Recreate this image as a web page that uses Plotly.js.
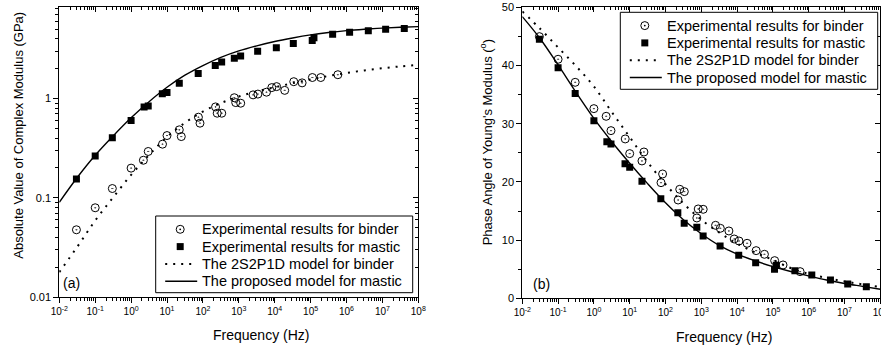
<!DOCTYPE html>
<html>
<head>
<meta charset="utf-8">
<script src="https://cdn.plot.ly/plotly-3.0.1.min.js"></script>
<style>html,body{margin:0;padding:0;background:#fff;}#chart{width:881px;height:347px;}</style>
</head>
<body>
<div id="chart"></div>
<script>
// ---- data ----
const freqMastic = [0.03,0.1,0.3,1,2.3,3,7.4,10,22,74,221,333,750,1125,3350,11100,33000,111000,124000,411000,1220000,4050000,12300000,40700000];
const modulusMastic = [0.155,0.263,0.402,0.601,0.824,0.844,1.12,1.15,1.43,1.79,2.15,2.34,2.55,2.69,3.0,3.26,3.58,3.84,4.11,4.44,4.65,4.84,4.99,5.1];
const phaseMastic = [44.5,39.6,35.2,30.5,26.9,26.5,23.1,22.5,20.1,17.1,14.7,12.9,12.2,10.7,9.0,7.4,6.1,5.0,5.7,4.75,4.0,3.15,2.46,2.0];

const freqBinder = [0.03,0.1,0.3,1,2.2,3,7.5,10,22,25,75,83,225,250,335,750,820,1130,2500,3400,5900,8300,11300,19000,34000,58000,112000,192000,575000];
const modulusBinder = [0.0476,0.0793,0.124,0.199,0.239,0.293,0.347,0.424,0.484,0.414,0.649,0.565,0.824,0.712,0.712,1.02,0.911,0.898,1.09,1.11,1.16,1.29,1.32,1.21,1.48,1.44,1.63,1.63,1.74];
const phaseBinder = [44.96,41.07,37.11,32.59,31.27,28.81,27.38,24.86,23.6,25.14,19.87,21.36,16.89,18.73,18.33,13.8,15.35,15.29,12.54,12.03,11.57,10.19,9.85,9.45,8.19,7.56,6.47,5.73,4.58];

const modelFreq = [0.01,0.0316,0.1,0.316,1,3.16,10,31.6,100,316,1000,3160,1e4,3.16e4,1e5,3.16e5,1e6,3.16e6,1e7,3.16e7,1e8];
const modelModulusMastic = [0.09,0.16,0.268,0.42,0.64,0.93,1.3,1.72,2.15,2.6,3.02,3.4,3.76,4.08,4.38,4.63,4.84,5.0,5.13,5.23,5.31];
const modelModulusBinder = [0.0178,0.032,0.059,0.101,0.17,0.27,0.41,0.57,0.74,0.9,1.05,1.18,1.3,1.43,1.56,1.69,1.81,1.92,2.02,2.11,2.19];
const modelPhaseMastic = [48.4,44.6,40.1,35.4,30.9,26.9,23.2,19.7,16.4,13.5,11.1,9.1,7.6,6.45,5.45,4.6,3.85,3.15,2.55,2.05,1.55];
const modelPhaseBinder = [49.3,46.3,43.1,39.9,36.4,32.0,27.7,23.4,19.6,16.3,13.5,11.3,9.4,7.9,6.6,5.2,4.2,3.5,2.9,2.4,1.95];

const xTickVals = [0.01,0.1,1,10,100,1000,1e4,1e5,1e6,1e7,1e8];
const xTickText = ['10<sup>-2</sup>','10<sup>-1</sup>','10<sup>0</sup>','10<sup>1</sup>','10<sup>2</sup>','10<sup>3</sup>','10<sup>4</sup>','10<sup>5</sup>','10<sup>6</sup>','10<sup>7</sup>','10<sup>8</sup>'];
const yTickValsA = [0.01,0.1,1];
const yTickTextA = ['0.01','0.1','1'];

const names = ['Experimental results for binder','Experimental results for mastic','The 2S2P1D model for binder','The proposed model for mastic'];

// minor tick positions for log axes (axis configuration)
function logMinor(a,b){const v=[];for(let k=a;k<=b;k++){for(let m=2;m<=9;m++){v.push(m*Math.pow(10,k));}}return v;}
const minorX = logMinor(-2,7);
const minorYA = logMinor(-2,0).filter(v=>v<8.4);

const FONT = 'Liberation Sans, Arial, Helvetica, sans-serif';
const dotDash = '2px,6px';

function traces(xa, ya, yB, yM, mB, mM){
  return [
    {x: modelFreq, y: mB, xaxis: xa, yaxis: ya, name: names[2], showlegend: false, mode: 'lines', line: {color: '#000', width: 2, dash: dotDash, shape: 'spline', smoothing: 1}},
    {x: modelFreq, y: mM, xaxis: xa, yaxis: ya, name: names[3], showlegend: false, mode: 'lines', line: {color: '#000', width: 1.4, shape: 'spline', smoothing: 1}},
    {x: freqBinder, y: yB, xaxis: xa, yaxis: ya, name: names[0], showlegend: false, mode: 'markers', marker: {symbol: 'circle-open-dot', size: 8, color: '#000', line: {width: 1, color: '#000'}}},
    {x: freqMastic, y: yM, xaxis: xa, yaxis: ya, name: names[1], showlegend: false, mode: 'markers', marker: {symbol: 'square', size: 7, color: '#000'}}
  ];
}

const data = [].concat(
  traces('x','y', modulusBinder, modulusMastic, modelModulusBinder, modelModulusMastic),
  traces('x2','y2', phaseBinder, phaseMastic, modelPhaseBinder, modelPhaseMastic)
);
// helper traces so mirror axes are drawn
data.push({x:[1],y:[1],xaxis:'x3',yaxis:'y',mode:'markers',marker:{opacity:0},showlegend:false,hoverinfo:'skip'});
data.push({x:[1],y:[1],xaxis:'x',yaxis:'y3',mode:'markers',marker:{opacity:0},showlegend:false,hoverinfo:'skip'});
data.push({x:[1],y:[1],xaxis:'x4',yaxis:'y2',mode:'markers',marker:{opacity:0},showlegend:false,hoverinfo:'skip'});
data.push({x:[1],y:[1],xaxis:'x2',yaxis:'y4',mode:'markers',marker:{opacity:0},showlegend:false,hoverinfo:'skip'});

const W = 881, H = 347;
const px = v => v / W;
const py = v => (H - v) / H;
const dxA = [px(59.3), px(418.3)];
const dxB = [px(522.3), px(880.3)];
const dyA = [py(297), py(7.3)];
const dyB = [py(298.3), py(7.3)];

function xAxis(dom, anchor){
  return {
    domain: dom, anchor: anchor, type: 'log', range: [-2, 8], autorange: false,
    tickmode: 'array', tickvals: xTickVals, ticktext: xTickText,
    ticks: 'outside', ticklen: 5, tickwidth: 1, tickcolor: '#000',
    ticklabeloverflow: 'allow',
    showline: true, linecolor: '#000', linewidth: 1, showgrid: false, zeroline: false,
    tickfont: {family: FONT, size: 10, color: '#000'},
    minor: {tickmode: 'array', tickvals: minorX, ticks: 'outside', ticklen: 3, tickcolor: '#000', tickwidth: 1, showgrid: false}
  };
}
function mirrorX(over, anchor){
  return {
    overlaying: over, anchor: anchor, side: 'top', type: 'log', range: [-2, 8], autorange: false,
    tickmode: 'array', tickvals: xTickVals, ticks: 'inside', ticklen: 5, tickwidth: 1, tickcolor: '#000',
    showticklabels: false, showline: true, linecolor: '#000', linewidth: 1, showgrid: false, zeroline: false,
    minor: {tickmode: 'array', tickvals: minorX, ticks: 'inside', ticklen: 3, tickcolor: '#000', tickwidth: 1, showgrid: false}
  };
}

// ---- legend drawn as box + samples + text ----
const shapes = [];
const annotations = [];
function addLegend(bx, by, bw, bh){
  shapes.push({type: 'rect', xref: 'paper', yref: 'paper', x0: px(bx), x1: px(bx+bw), y0: py(by+bh), y1: py(by), line: {color: '#000', width: 1}, fillcolor: '#fff', layer: 'above'});
  const rows = [13.3, 30.6, 47.9, 65.2];
  const sx = bx + 24.5;
  let cy = by + rows[0];
  shapes.push({type: 'circle', xref: 'paper', yref: 'paper', x0: px(sx-4), x1: px(sx+4), y0: py(cy+4), y1: py(cy-4), line: {color: '#000', width: 1}, fillcolor: '#fff', layer: 'above'});
  shapes.push({type: 'circle', xref: 'paper', yref: 'paper', x0: px(sx-0.9), x1: px(sx+0.9), y0: py(cy+0.9), y1: py(cy-0.9), line: {width: 0}, fillcolor: '#000', layer: 'above'});
  cy = by + rows[1];
  shapes.push({type: 'rect', xref: 'paper', yref: 'paper', x0: px(sx-3.5), x1: px(sx+3.5), y0: py(cy+3.5), y1: py(cy-3.5), line: {width: 0}, fillcolor: '#000', layer: 'above'});
  cy = by + rows[2];
  shapes.push({type: 'line', xref: 'paper', yref: 'paper', x0: px(bx+9.5), x1: px(bx+41.5), y0: py(cy), y1: py(cy), line: {color: '#000', width: 2, dash: dotDash}, layer: 'above'});
  cy = by + rows[3];
  shapes.push({type: 'line', xref: 'paper', yref: 'paper', x0: px(bx+9.5), x1: px(bx+41.5), y0: py(cy), y1: py(cy), line: {color: '#000', width: 1.4}, layer: 'above'});
  names.forEach((n, i) => {
    annotations.push({text: n, xref: 'paper', yref: 'paper', x: px(bx+44.5), y: py(by+rows[i]), xanchor: 'left', yanchor: 'middle', showarrow: false, font: {family: FONT, size: 14.5, color: '#000'}});
  });
}
addLegend(155.7, 216, 257, 76.7);
addLegend(620.3, 12.3, 257.4, 77);

annotations.push(
  {text: 'Absolute Value of Complex Modulus (GPa)', xref: 'paper', yref: 'paper', x: px(17.7), y: py(135), textangle: -90, showarrow: false, xanchor: 'center', yanchor: 'middle', font: {family: FONT, size: 13, color: '#000'}},
  {text: 'Phase Angle of Young\'s Modulus (<sup>o</sup>)', xref: 'paper', yref: 'paper', x: px(485.8), y: py(142.5), textangle: -90, showarrow: false, xanchor: 'center', yanchor: 'middle', font: {family: FONT, size: 13, color: '#000'}},
  {text: 'Frequency (Hz)', xref: 'paper', yref: 'paper', x: px(260.7), y: py(335), showarrow: false, xanchor: 'center', yanchor: 'middle', font: {family: FONT, size: 14, color: '#000'}},
  {text: 'Frequency (Hz)', xref: 'paper', yref: 'paper', x: px(723.7), y: py(336.7), showarrow: false, xanchor: 'center', yanchor: 'middle', font: {family: FONT, size: 14, color: '#000'}},
  {text: '(a)', xref: 'paper', yref: 'paper', x: px(61), y: py(283), showarrow: false, xanchor: 'left', yanchor: 'middle', font: {family: FONT, size: 14, color: '#000'}},
  {text: '(b)', xref: 'paper', yref: 'paper', x: px(531), y: py(284.3), showarrow: false, xanchor: 'left', yanchor: 'middle', font: {family: FONT, size: 14, color: '#000'}}
);

const layout = {
  width: W, height: H,
  margin: {l: 0, r: 0, t: 0, b: 0},
  paper_bgcolor: '#fff', plot_bgcolor: '#fff',
  font: {family: FONT, color: '#000'},
  showlegend: false,
  xaxis: xAxis(dxA, 'y'),
  xaxis2: xAxis(dxB, 'y2'),
  xaxis3: mirrorX('x', 'y'),
  xaxis4: mirrorX('x2', 'y2'),
  yaxis: {
    domain: dyA, anchor: 'x', type: 'log', range: [-2, 0.92], autorange: false,
    tickmode: 'array', tickvals: yTickValsA, ticktext: yTickTextA,
    ticks: 'outside', ticklen: 5, tickwidth: 1, tickcolor: '#000',
    showline: true, linecolor: '#000', linewidth: 1, showgrid: false, zeroline: false,
    tickfont: {family: FONT, size: 11, color: '#000'},
    minor: {tickmode: 'array', tickvals: minorYA, ticks: 'outside', ticklen: 3, tickcolor: '#000', tickwidth: 1, showgrid: false}
  },
  yaxis3: {
    overlaying: 'y', anchor: 'x', side: 'right', type: 'log', range: [-2, 0.92], autorange: false,
    tickmode: 'array', tickvals: yTickValsA, ticks: 'inside', ticklen: 5, tickwidth: 1, tickcolor: '#000',
    showticklabels: false, showline: true, linecolor: '#000', linewidth: 1, showgrid: false, zeroline: false,
    minor: {tickmode: 'array', tickvals: minorYA, ticks: 'inside', ticklen: 3, tickcolor: '#000', tickwidth: 1, showgrid: false}
  },
  yaxis2: {
    domain: dyB, anchor: 'x2', range: [0, 50], autorange: false, dtick: 10, tick0: 0,
    ticks: 'outside', ticklen: 5, tickwidth: 1, tickcolor: '#000',
    showline: true, linecolor: '#000', linewidth: 1, showgrid: false, zeroline: false,
    tickfont: {family: FONT, size: 11, color: '#000'},
    minor: {dtick: 5, ticks: 'outside', ticklen: 3, tickcolor: '#000', tickwidth: 1, showgrid: false}
  },
  yaxis4: {
    overlaying: 'y2', anchor: 'x2', side: 'right', range: [0, 50], autorange: false, dtick: 10, tick0: 0,
    ticks: 'inside', ticklen: 5, tickwidth: 1, tickcolor: '#000',
    showticklabels: false, showline: true, linecolor: '#000', linewidth: 1, showgrid: false, zeroline: false,
    minor: {dtick: 5, ticks: 'inside', ticklen: 3, tickcolor: '#000', tickwidth: 1, showgrid: false}
  },
  shapes: shapes,
  annotations: annotations
};

Plotly.newPlot('chart', data, layout, {staticPlot: true, displayModeBar: false});
</script>
</body>
</html>
